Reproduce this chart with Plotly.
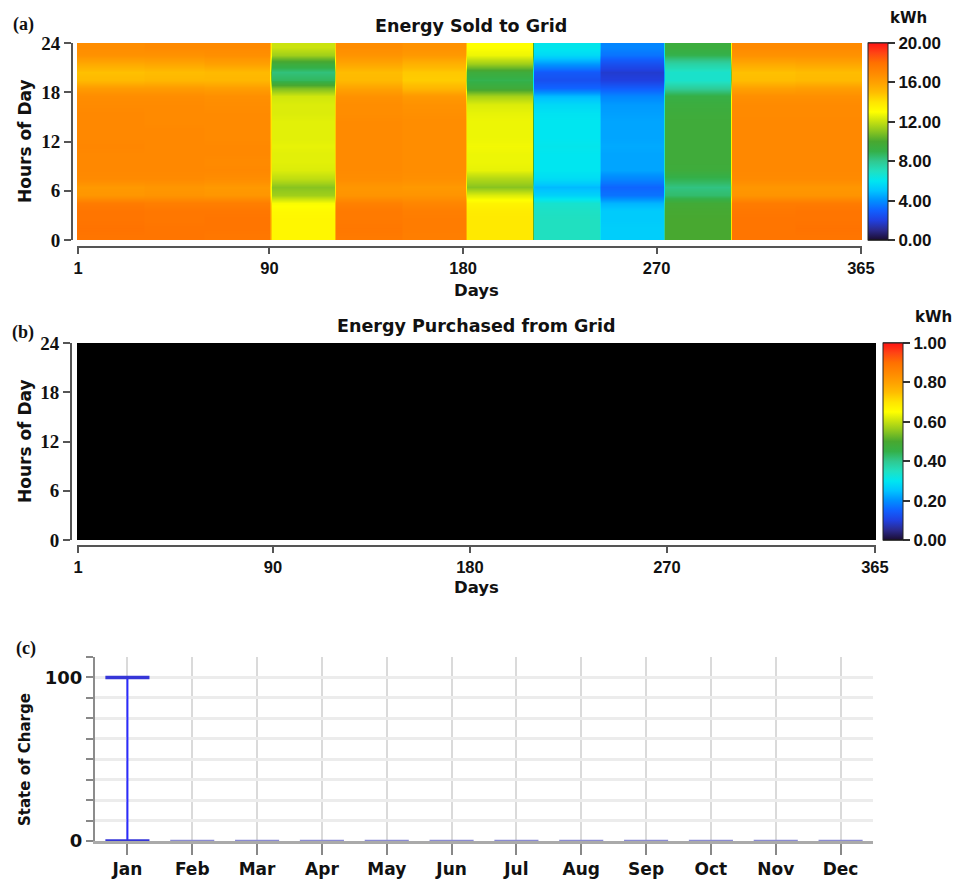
import plotly.graph_objects as go

W, H = 956, 883


def px_x(p):
    return p / W


def px_y(p):
    return 1 - p / H


# ---------------- data ----------------
months = ["Jan", "Feb", "Mar", "Apr", "May", "Jun",
          "Jul", "Aug", "Sep", "Oct", "Nov", "Dec"]
month_days = [31, 28, 31, 30, 31, 30, 31, 31, 30, 31, 30, 31]
days = list(range(1, 366))
hour_edges = list(range(25))
day_ticks = [1, 90, 180, 270, 365]
hour_ticks = [0, 6, 12, 18, 24]
sold_cbar_ticks = [0, 4, 8, 12, 16, 20]
purchased_cbar_ticks = [0, 0.2, 0.4, 0.6, 0.8, 1.0]

# Energy sold to grid (kWh): typical hourly profile (hours 0..23) of each month
sold_jan = [17.8, 17.9, 17.8, 17.8, 17.5, 16.4, 16.3, 16.9, 17.0, 17.0, 17.0, 17.1,
            17.0, 17.0, 17.0, 17.0, 16.9, 16.8, 16.2, 15.1, 14.9, 15.7, 16.6, 16.8]
sold_feb = [17.8, 17.8, 17.7, 17.7, 17.4, 16.5, 16.4, 16.9, 17.0, 17.0, 17.0, 17.0,
            17.0, 17.0, 16.9, 16.9, 16.9, 16.8, 16.2, 15.2, 15.0, 15.8, 16.6, 16.9]
sold_mar = [17.7, 17.8, 17.8, 17.7, 17.4, 16.4, 16.3, 16.8, 17.0, 16.9, 17.0, 17.0,
            16.9, 16.9, 16.9, 16.9, 16.8, 16.7, 16.1, 15.2, 15.1, 16.0, 16.7, 16.9]
sold_apr = [13.3, 13.3, 13.3, 13.2, 12.9, 11.4, 11.0, 11.9, 12.4, 12.5, 12.5, 12.6,
            12.5, 12.5, 12.5, 12.4, 12.4, 12.2, 10.8, 8.7, 8.3, 9.5, 11.4, 12.1]
sold_may = [17.6, 17.7, 17.6, 17.6, 17.3, 16.5, 16.4, 16.8, 16.9, 16.9, 16.9, 16.9,
            16.9, 16.9, 16.9, 16.8, 16.8, 16.6, 15.9, 15.1, 15.0, 15.8, 16.5, 16.8]
sold_jun = [17.4, 17.5, 17.5, 17.4, 17.1, 16.5, 16.3, 16.7, 16.8, 16.8, 16.8, 16.8,
            16.8, 16.8, 16.8, 16.7, 16.6, 16.3, 15.2, 14.6, 14.7, 15.4, 16.3, 16.6]
sold_jul = [13.8, 13.8, 13.8, 13.7, 13.4, 12.4, 11.0, 11.7, 12.6, 12.7, 12.7, 12.8,
            12.7, 12.7, 12.7, 12.6, 12.4, 11.5, 9.6, 8.9, 9.5, 11.4, 12.7, 13.0]
sold_aug = [7.0, 7.0, 7.0, 6.9, 6.7, 5.4, 4.8, 5.7, 6.0, 6.0, 6.0, 6.1,
            6.0, 6.0, 6.0, 5.9, 5.6, 4.8, 3.1, 2.5, 2.8, 4.2, 5.6, 6.1]
sold_sep = [5.3, 5.3, 5.2, 5.2, 4.7, 3.4, 3.1, 3.8, 4.4, 4.4, 4.4, 4.5,
            4.4, 4.4, 4.4, 4.3, 4.2, 3.8, 2.9, 2.0, 1.8, 2.5, 3.4, 3.8]
sold_oct = [10.0, 10.0, 10.0, 9.9, 9.7, 8.5, 8.2, 8.9, 9.5, 9.6, 9.6, 9.6,
            9.6, 9.6, 9.6, 9.5, 9.4, 9.1, 7.8, 6.8, 6.8, 7.6, 8.9, 9.4]
sold_nov = [17.8, 17.8, 17.8, 17.7, 17.5, 16.5, 16.4, 16.9, 17.0, 17.0, 17.0, 17.0,
            17.0, 17.0, 17.0, 16.9, 16.9, 16.7, 16.0, 15.0, 14.9, 15.7, 16.6, 16.9]
sold_dec = [17.8, 17.9, 17.8, 17.8, 17.5, 16.5, 16.4, 16.9, 17.0, 17.0, 17.0, 17.0,
            17.0, 17.0, 17.0, 16.9, 16.9, 16.7, 16.1, 15.1, 15.0, 15.8, 16.6, 16.9]
sold_profiles = [sold_jan, sold_feb, sold_mar, sold_apr, sold_may, sold_jun,
                 sold_jul, sold_aug, sold_sep, sold_oct, sold_nov, sold_dec]

# Energy purchased from grid (kWh): nothing purchased in any hour of any month
purchased_month = [0.0] * 24
purchased_profiles = [purchased_month] * 12

# Battery state of charge (%) monthly min / max
soc_min = [0, 0, 0, 0, 0, 0, 0, 0, 0, 0, 0, 0]
soc_max = [100, 0, 0, 0, 0, 0, 0, 0, 0, 0, 0, 0]


def expand(profiles):
    cols = []
    for prof, n in zip(profiles, month_days):
        cols.extend([prof] * n)
    return [[col[h] for col in cols] for h in range(24)]


sold_z = expand(sold_profiles)
purchased_z = expand(purchased_profiles)

kwh_scale = [
    [0.0, "#000000"], [0.004, "#1c0f38"], [0.05, "#2b2a8c"], [0.10, "#2040e0"],
    [0.15, "#1060ff"], [0.20, "#0090ff"], [0.25, "#00c4ff"], [0.30, "#00e6f0"],
    [0.35, "#20e0c0"], [0.40, "#30c890"], [0.45, "#34b048"], [0.50, "#48a830"],
    [0.55, "#88c420"], [0.60, "#c4e010"], [0.65, "#ffff00"], [0.70, "#ffe400"],
    [0.75, "#ffbc00"], [0.80, "#ffa000"], [0.85, "#ff8800"], [0.90, "#ff7000"],
    [0.95, "#ff4414"], [1.0, "#ff1414"],
]

NUM_FONT = dict(family="Liberation Sans", size=17, color="#111", weight="bold")
XNUM_FONT = dict(family="Liberation Sans", size=16.5, color="#111", weight="bold")
SERIF_FONT = dict(family="Liberation Serif", size=19, color="#111", weight="bold")
TXT = "DejaVu Sans"
AX = "#555555"
CB_THICK = 20

shapes = []


def cbar(x_left, top, bottom, vals, zmin, zmax):
    # dark lines crossing the colour bar at each tick level
    for v in vals:
        yv = px_y(bottom) + (v - zmin) / (zmax - zmin) * (bottom - top) / H
        shapes.append(dict(type="line", xref="paper", yref="paper",
                           x0=px_x(x_left), x1=px_x(x_left + CB_THICK), y0=yv, y1=yv,
                           line=dict(color="#333", width=1.5)))
    return dict(
        x=px_x(x_left), xanchor="left", xref="paper",
        y=px_y(bottom), yanchor="bottom", yref="paper",
        len=bottom - top, lenmode="pixels", thickness=CB_THICK, thicknessmode="pixels",
        xpad=0, ypad=0, outlinewidth=1, outlinecolor="#222",
        tickmode="array", tickvals=vals, tickformat=".2f",
        ticks="outside", ticklen=7, tickcolor="#333", tickwidth=1.5,
        tickfont=NUM_FONT,
    )


fig = go.Figure()

fig.add_trace(go.Heatmap(
    x=days, y=hour_edges, z=sold_z, zmin=0, zmax=20, colorscale=kwh_scale,
    zsmooth="best", xaxis="x", yaxis="y", hoverinfo="skip",
    colorbar=cbar(868, 43, 240, sold_cbar_ticks, 0, 20),
))
fig.add_trace(go.Heatmap(
    x=days, y=hour_edges, z=purchased_z, zmin=0, zmax=1, colorscale=kwh_scale,
    zsmooth="best", xaxis="x2", yaxis="y2", hoverinfo="skip",
    colorbar=cbar(883, 343, 540, purchased_cbar_ticks, 0, 1),
))

# state of charge whiskers
cap_half = 0.34
wx, wy, cdx, cdy, clx, cly = [], [], [], [], [], []
for i, (lo, hi) in enumerate(zip(soc_min, soc_max)):
    if hi > lo:
        wx += [i, i, None]
        wy += [lo, hi, None]
        for v in (lo, hi):
            cdx += [i - cap_half, i + cap_half, None]
            cdy += [v, v, None]
    else:
        clx += [i - cap_half, i + cap_half, None]
        cly += [lo, lo, None]

fig.add_trace(go.Scatter(x=clx, y=cly, mode="lines", xaxis="x3", yaxis="y3",
                         line=dict(color="#8a8ad2", width=2.5), hoverinfo="skip",
                         showlegend=False, cliponaxis=False))
fig.add_trace(go.Scatter(x=wx, y=wy, mode="lines", xaxis="x3", yaxis="y3",
                         line=dict(color="#2b2bff", width=2), hoverinfo="skip",
                         showlegend=False, cliponaxis=False))
fig.add_trace(go.Scatter(x=cdx, y=cdy, mode="lines", xaxis="x3", yaxis="y3",
                         line=dict(color="#3636d8", width=3.5), hoverinfo="skip",
                         showlegend=False, cliponaxis=False))


def heat_axes(x0, x1, top, bottom, xline, yline):
    xa = dict(domain=[px_x(x0), px_x(x1)], range=[0.5, 365.5], anchor="free",
              position=px_y(xline), tickmode="array", tickvals=day_ticks,
              ticks="outside", ticklen=6, tickwidth=2, tickcolor=AX,
              showline=True, linecolor=AX, linewidth=2, showgrid=False,
              zeroline=False, tickfont=XNUM_FONT)
    ya = dict(domain=[px_y(bottom), px_y(top)], range=[0, 24], anchor="free",
              position=px_x(yline), tickmode="array", tickvals=hour_ticks,
              ticks="outside", ticklen=7, tickwidth=2, tickcolor=AX,
              showline=True, linecolor=AX, linewidth=2, showgrid=False,
              zeroline=False, tickfont=SERIF_FONT)
    return xa, ya


xa1, ya1 = heat_axes(77, 862, 43, 240, 247, 72)
xa2, ya2 = heat_axes(77, 876, 343, 540, 546, 71)

soc_ticks = [0, 12.5, 25, 37.5, 50, 62.5, 75, 87.5, 100, 112.5]
soc_text = ["0", "", "", "", "", "", "", "", "100", ""]

fig.update_layout(
    width=W, height=H, margin=dict(l=0, r=0, t=0, b=0, autoexpand=False),
    paper_bgcolor="white", plot_bgcolor="white", showlegend=False,
    xaxis=xa1, yaxis=ya1, xaxis2=xa2, yaxis2=ya2,
    xaxis3=dict(domain=[px_x(95), px_x(873)], range=[-0.5, 11.5], anchor="y3",
                tickmode="array", tickvals=list(range(12)), ticktext=months,
                ticks="outside", ticklen=11, tickwidth=1.5, tickcolor="#888",
                showline=True, linecolor="#aaaaaa", linewidth=3,
                showgrid=True, gridcolor="#dadada", gridwidth=1.5, zeroline=False,
                tickfont=dict(family=TXT, size=17, color="#111", weight="bold")),
    yaxis3=dict(domain=[px_y(841), px_y(657)], range=[0, 112.5], anchor="x3",
                tickmode="array", tickvals=soc_ticks, ticktext=soc_text,
                ticks="outside", ticklen=7, tickwidth=1.5, tickcolor="#888",
                showline=True, linecolor="#8c8c8c", linewidth=2,
                showgrid=True, gridcolor="#ececec", gridwidth=3, zeroline=False,
                tickfont=dict(family=TXT, size=18, color="#111", weight="bold")),
    shapes=shapes,
)


def note(text, x, y, size, family=TXT, angle=0):
    fig.add_annotation(text=text, x=px_x(x), y=px_y(y), xref="paper", yref="paper",
                       xanchor="center", yanchor="middle", showarrow=False,
                       textangle=angle,
                       font=dict(family=family, size=size, color="#111", weight="bold"))


note("(a)", 23, 25, 18, "Liberation Serif")
note("Energy Sold to Grid", 471, 26, 17.5)
note("kWh", 908, 18, 15)
note("Hours of Day", 25, 141, 17, angle=-90)
note("Days", 476, 290, 16.5)

note("(b)", 23, 332, 18, "Liberation Serif")
note("Energy Purchased from Grid", 476, 326, 17.5)
note("kWh", 933, 317, 15)
note("Hours of Day", 25, 441, 17, angle=-90)
note("Days", 476, 587, 16.5)

note("(c)", 26, 648, 18, "Liberation Serif")
note("State of Charge", 25, 760, 15, angle=-90)

fig.write_html(
    "out.html",
    post_script="document.body.style.margin='0';document.body.style.overflow='hidden';",
)
